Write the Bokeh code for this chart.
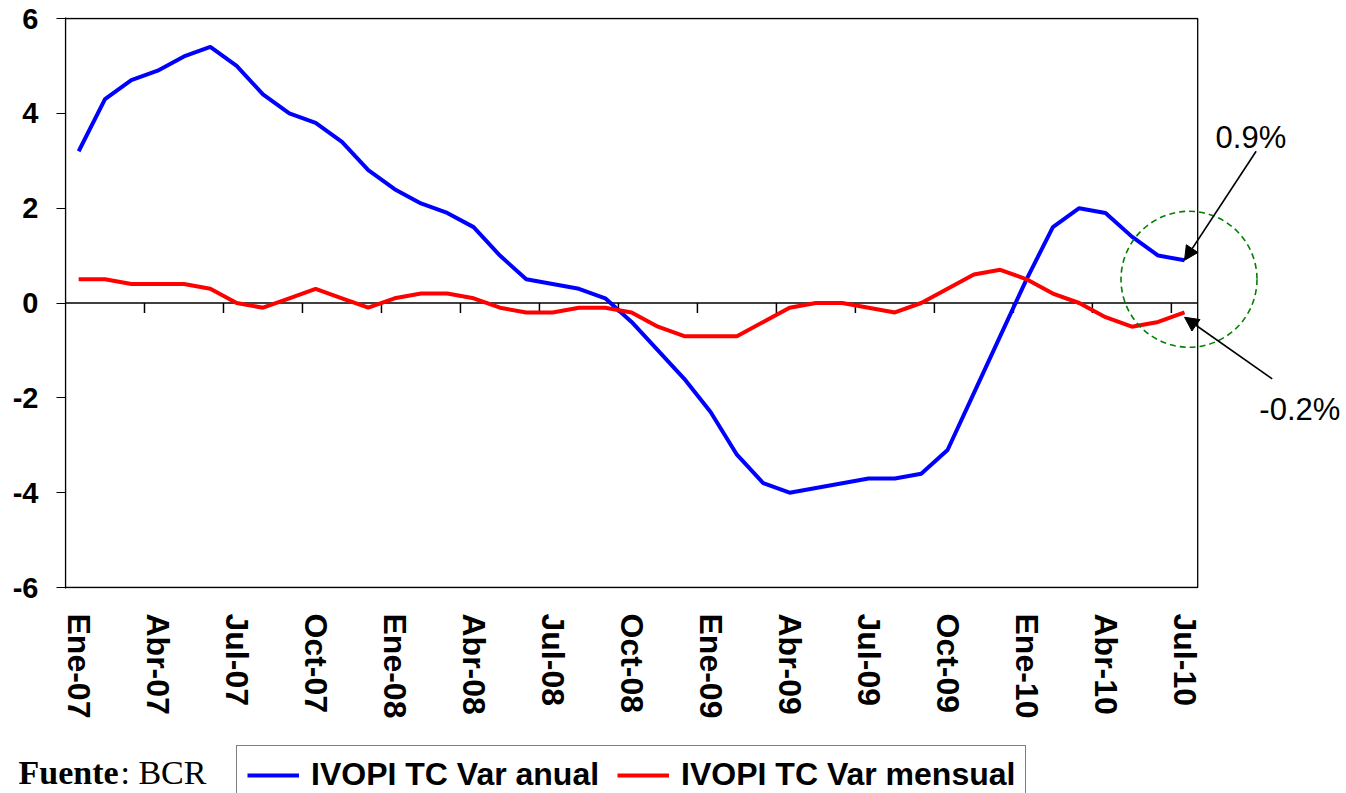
import numpy as np
from bokeh.plotting import figure
from bokeh.models import (Range1d, FixedTicker, BoxAnnotation, Legend, LegendItem,
                          Label, Arrow, NormalHead)
from bokeh.embed import file_html
from bokeh.resources import INLINE

# ---------------- data ----------------
anual = [3.2, 4.3, 4.7, 4.9, 5.2, 5.4, 5.0, 4.4, 4.0, 3.8, 3.4, 2.8, 2.4, 2.1, 1.9,
         1.6, 1.0, 0.5, 0.4, 0.3, 0.1, -0.4, -1.0, -1.6, -2.3, -3.2, -3.8, -4.0, -3.9,
         -3.8, -3.7, -3.7, -3.6, -3.1, -1.9, -0.7, 0.5, 1.6, 2.0, 1.9, 1.4, 1.0, 0.9]
mensual = [0.5, 0.5, 0.4, 0.4, 0.4, 0.3, 0.0, -0.1, 0.1, 0.3, 0.1, -0.1, 0.1, 0.2, 0.2,
           0.1, -0.1, -0.2, -0.2, -0.1, -0.1, -0.2, -0.5, -0.7, -0.7, -0.7, -0.4, -0.1, 0.0,
           0.0, -0.1, -0.2, 0.0, 0.3, 0.6, 0.7, 0.5, 0.2, 0.0, -0.3, -0.5, -0.4, -0.2]
tick_labels = ["Ene-07", "Abr-07", "Jul-07", "Oct-07", "Ene-08", "Abr-08", "Jul-08",
               "Oct-08", "Ene-09", "Abr-09", "Jul-09", "Oct-09", "Ene-10", "Abr-10", "Jul-10"]
label_step = 3
y_ticks = [-6, -4, -2, 0, 2, 4, 6]
series_names = ["IVOPI TC Var anual", "IVOPI TC Var mensual"]
series_colors = ["#0000FF", "#FF0000"]
source_bold, source_rest = "Fuente", ": BCR"

x = list(range(len(anual)))
x_lo, x_hi = -0.5, len(anual) - 0.5
tick_pos = [i * label_step for i in range(len(tick_labels))]
boundaries = [t + label_step - 0.5 for t in tick_pos[:-1]]

W = 1346
TOP_H = 735
FRAME_W, FRAME_H = 1281, 571
px_x = 26.33
pad_y = (FRAME_H - 569) / 2 / (569 / 12.0)

p = figure(frame_width=FRAME_W, frame_height=FRAME_H,
           min_border_left=65, min_border_right=0, min_border_top=17,
           min_border_bottom=TOP_H - 17 - FRAME_H,
           x_range=Range1d(x_lo, x_lo + FRAME_W / px_x),
           y_range=Range1d(y_ticks[0] - pad_y, y_ticks[-1] + pad_y),
           output_backend="svg", toolbar_location=None)
p.outline_line_color = None
p.xgrid.visible = False
p.ygrid.visible = False
p.background_fill_color = "white"
p.border_fill_color = "white"

# y axis
yax = p.yaxis[0]
yax.ticker = FixedTicker(ticks=y_ticks)
yax.major_label_overrides = {v: str(v) for v in y_ticks}
yax.major_label_text_font = "Liberation Sans"
yax.major_label_text_font_style = "bold"
yax.major_label_text_font_size = "29px"
yax.major_label_text_color = "black"
yax.major_tick_out = 9
yax.major_tick_in = 0
yax.minor_tick_line_color = None
yax.axis_line_color = "black"
yax.axis_line_width = 1.2
yax.major_tick_line_color = "black"
yax.major_tick_line_width = 1.2
yax.major_label_standoff = 18

# x axis (labels only; axis line at zero drawn separately)
xax = p.xaxis[0]
xax.ticker = FixedTicker(ticks=tick_pos)
xax.major_label_overrides = {t: lab for t, lab in zip(tick_pos, tick_labels)}
xax.major_label_orientation = "vertical"
xax.major_label_text_font = "Liberation Sans"
xax.major_label_text_font_style = "bold"
xax.major_label_text_font_size = "32px"
xax.major_label_text_color = "black"
xax.major_tick_out = 0
xax.major_tick_in = 0
xax.major_tick_line_color = None
xax.minor_tick_line_color = None
xax.axis_line_color = None
xax.major_label_standoff = 25

# plot-area border
p.add_layout(BoxAnnotation(left=x_lo, right=x_hi, bottom=y_ticks[0], top=y_ticks[-1],
                           fill_color=None, fill_alpha=0, line_color="black",
                           line_alpha=1.0, line_width=1.3))

# zero line with category tick marks
p.segment(x0=[x_lo], y0=[0], x1=[x_hi], y1=[0], line_color="black", line_width=1.5)
tick_len = 10 / 47.4
p.segment(x0=boundaries, y0=[0] * len(boundaries), x1=boundaries,
          y1=[-tick_len] * len(boundaries), line_color="black", line_width=1.5)

r1 = p.line(x, anual, line_color=series_colors[0], line_width=4)
r2 = p.line(x, mensual, line_color=series_colors[1], line_width=4)

# highlight circle
circ_x, circ_y = x[-1] + 0.17, 0.5
p.scatter(x=[circ_x], y=[circ_y], marker="circle", size=136, fill_color=None,
          line_color="#008000", line_dash="6 4", line_width=1.6)

# arrows + value labels
p.add_layout(Arrow(end=NormalHead(size=14, fill_color="black", line_color="black"),
                   x_start=x[-1] + 2.72, y_start=anual[-1] + 2.3,
                   x_end=x[-1], y_end=anual[-1], line_width=1.6, line_color="black"))
p.add_layout(Arrow(end=NormalHead(size=14, fill_color="black", line_color="black"),
                   x_start=x[-1] + 3.33, y_start=mensual[-1] - 1.4,
                   x_end=x[-1], y_end=mensual[-1] - 0.1, line_width=1.6, line_color="black"))
p.add_layout(Label(x=x[-1] + 2.52, y=anual[-1] + 2.6, text=f"{anual[-1]:.1f}%",
                   text_align="center", text_baseline="middle",
                   text_font="Liberation Sans", text_font_size="31px", text_color="black"))
p.add_layout(Label(x=x[-1] + 4.38, y=mensual[-1] - 2.04, text=f"{mensual[-1]:.1f}%",
                   text_align="center", text_baseline="middle",
                   text_font="Liberation Sans", text_font_size="31px", text_color="black"))

# ---------------- strip below: source note + legend ----------------
STRIP_H = 793 - TOP_H
p2 = figure(width=W, height=STRIP_H, x_range=Range1d(0, W), y_range=Range1d(0, STRIP_H),
            min_border=0, x_axis_type=None, y_axis_type=None,
            output_backend="svg", toolbar_location=None)
p2.outline_line_color = None
p2.background_fill_color = "white"
p2.border_fill_color = "white"

nan = np.array([np.nan])
d1 = p2.line(x=nan, y=nan, line_color=series_colors[0], line_width=4)
d2 = p2.line(x=nan, y=nan, line_color=series_colors[1], line_width=4)

legend = Legend(items=[LegendItem(label=series_names[0], renderers=[d1]),
                       LegendItem(label=series_names[1], renderers=[d2])],
                orientation="horizontal", location=(236, -11),
                label_text_font="Liberation Sans", label_text_font_style="bold",
                label_text_font_size="32px", label_text_color="black",
                glyph_width=52, glyph_height=20, label_standoff=12, spacing=18,
                padding=10, margin=0, border_line_color="black", border_line_width=1.3,
                background_fill_color="white", background_fill_alpha=1.0)
p2.add_layout(legend, "center")

p2.add_layout(Label(x=18, y=21, x_units="screen", y_units="screen", text=source_bold,
                    text_font="Liberation Serif", text_font_style="bold",
                    text_font_size="34px", text_color="black", text_baseline="middle"))
p2.add_layout(Label(x=120, y=21, x_units="screen", y_units="screen", text=source_rest,
                    text_font="Liberation Serif", text_font_size="34px", text_color="black",
                    text_baseline="middle"))

open("out.html", "w").write(file_html([p, p2], INLINE))
